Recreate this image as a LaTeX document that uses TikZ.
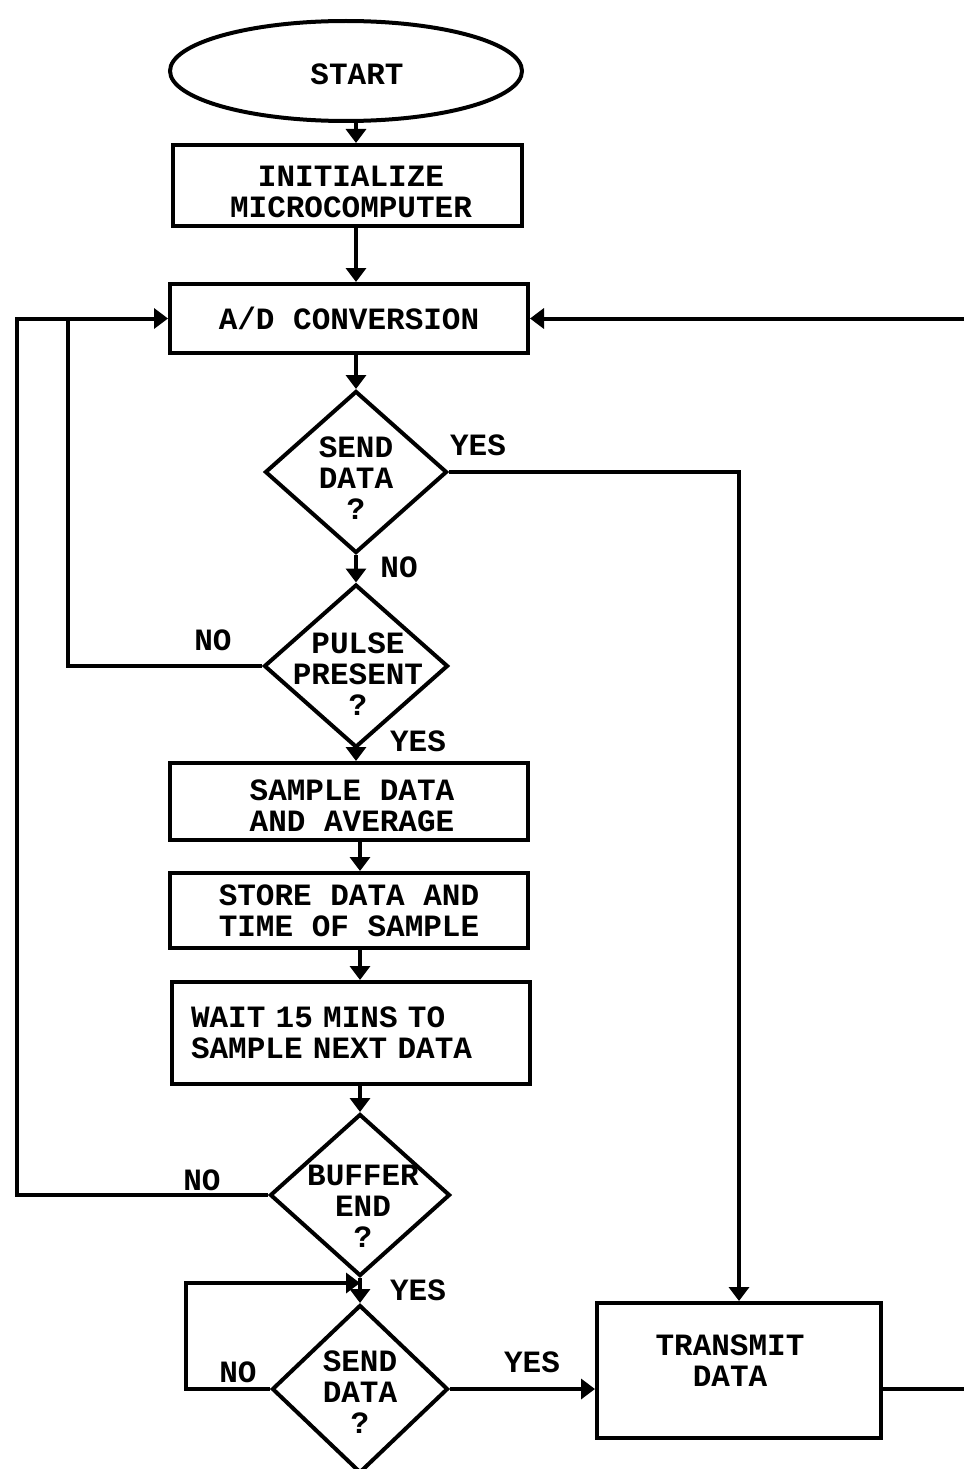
\documentclass[tikz,border=0pt]{standalone}
\usepackage{fontspec}
\setmainfont{Liberation Mono}
\usetikzlibrary{shapes.geometric,arrows.meta,calc}
\newcommand\txtfont{\fontsize{31}{31}\selectfont\bfseries}
\begin{document}
\begin{tikzpicture}[x=1pt,y=-1pt,line width=4pt,
  box/.style={draw,rectangle,inner sep=0pt,align=center,font=\txtfont},
  dia/.style={draw,diamond,inner sep=0pt},
  lbl/.style={font=\txtfont,inner sep=0pt},
  arr/.style={-{Triangle[width=20pt,length=14pt]}}]
\useasboundingbox (0,0) rectangle (964,1469);
\fill[white] (0,0) rectangle (964,1469);
% nodes
\node[draw,ellipse,minimum width=352pt,minimum height=100pt,inner sep=0pt] (start) at (346,71) {};
\node[lbl] (startt) at (357,74) {START};
\node[box,minimum width=349pt,minimum height=81pt] (init) at (347.5,185.5) {};
\node[lbl,align=center] (initt) at (351,192) {INITIALIZE\\MICROCOMPUTER};
\node[box,minimum width=358pt,minimum height=69pt] (ad) at (349,318.5) {A/D CONVERSION};
\node[dia,minimum width=182pt,minimum height=162pt] (d1) at (356,472) {};
\node[lbl,align=center] (d1t) at (356,478) {SEND\\DATA\\?};
\node[dia,minimum width=184pt,minimum height=163pt] (d2) at (356,666) {};
\node[lbl,align=center] (d2t) at (358,674) {PULSE\\PRESENT\\?};
\node[box,minimum width=358pt,minimum height=77pt] (sample) at (349,801.5) {};
\node[lbl,align=center] (samplet) at (352,806) {SAMPLE DATA\\AND AVERAGE};
\node[box,minimum width=358pt,minimum height=75pt] (store) at (349,910.5) {STORE DATA AND\\TIME OF SAMPLE};
\node[box,minimum width=358pt,minimum height=102pt,text width=320pt,align=left] (wait) at (351,1033) {WAIT 15 MINS TO\\SAMPLE NEXT DATA};
\node[dia,minimum width=180pt,minimum height=162pt] (d3) at (360,1195) {};
\node[lbl,align=center] (d3t) at (363,1206) {BUFFER\\END\\?};
\node[dia,minimum width=176pt,minimum height=168pt] (d4) at (360,1389) {};
\node[lbl,align=center] (d4t) at (360,1392) {SEND\\DATA\\?};
\node[box,minimum width=284pt,minimum height=135pt] (tx) at (739,1370.5) {};
\node[lbl,align=center] (txt) at (730,1361) {TRANSMIT\\DATA};
% labels
\node[lbl] (y1) at (478,445) {YES};
\node[lbl] (n1) at (399,567) {NO};
\node[lbl] (n2) at (213,640) {NO};
\node[lbl] (y2) at (418,741) {YES};
\node[lbl] (n3) at (202,1180) {NO};
\node[lbl] (y3) at (418,1290) {YES};
\node[lbl] (n4) at (238,1372) {NO};
\node[lbl] (y4) at (532,1362) {YES};
% helper coordinates
\coordinate (lx1) at (68,0);
\coordinate (lx2) at (17,0);
\coordinate (rx) at (964,0);
\coordinate (lp) at (186,1283);
% connectors
\draw[arr] (start.south -| d1.north) -- (init.north -| d1.north);
\draw[arr] (init.south -| d1.north) -- (ad.north -| d1.north);
\draw[arr] (ad.south -| d1.north) -- (d1.north);
\draw[arr] (d1.east) -| (tx.north);
\draw[arr] (d1.south) -- (d2.north);
\draw (d2.west) -| (ad.west -| lx1);
\draw[arr] (d2.south) -- (d2.south |- sample.north);
\draw[arr] (sample.south -| d3.north) -- (store.north -| d3.north);
\draw[arr] (store.south -| d3.north) -- (wait.north -| d3.north);
\draw[arr] (wait.south -| d3.north) -- (d3.north);
\draw[arr] (d3.west) -| (ad.west -| lx2) -- (ad.west);
\draw[arr] (d3.south) -- (d4.north);
\draw[arr] (d4.west) -| (lp) -- (d4.north |- lp);
\draw[arr] (d4.east) -- (d4.east -| tx.west);
\draw (tx.east |- d4.east) -- (d4.east -| rx);
\draw[arr] (ad.east -| rx) -- (ad.east);
\end{tikzpicture}
\end{document}
